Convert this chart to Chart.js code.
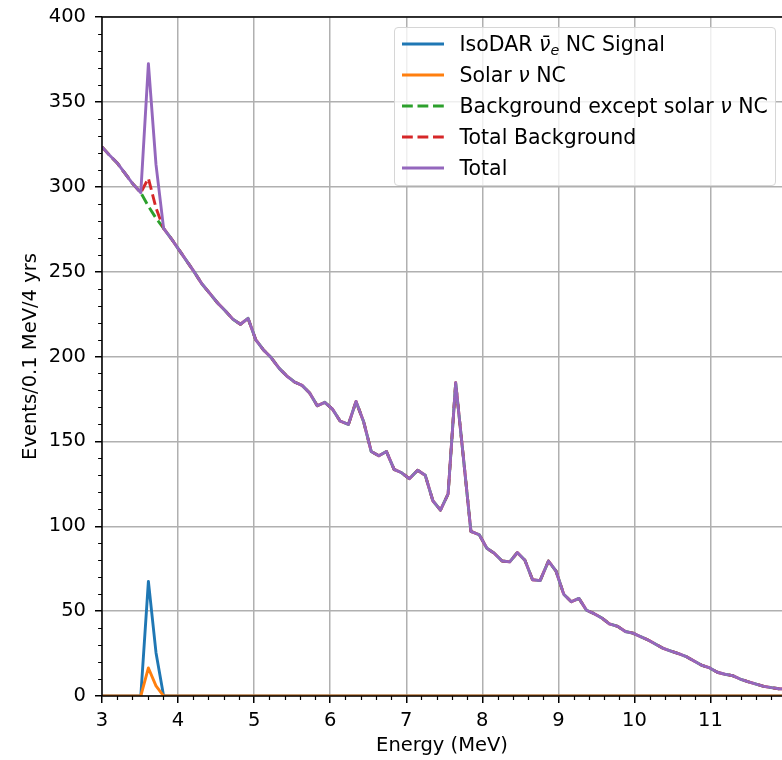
<!DOCTYPE html>
<html lang="en">
<head>
<meta charset="utf-8">
<title>IsoDAR NC spectrum</title>
<script src="https://cdn.jsdelivr.net/npm/chart.js@4.4.1/dist/chart.umd.min.js"></script>
<style>
  body { margin: 0; background: #fff; }
  #wrap { position: relative; width: 782px; height: 760px; }
  #legend {
    position: absolute; left: 394px; top: 27px; width: 382px; height: 159px;
    box-sizing: border-box; border: 1.5px solid #d6d6d6; border-radius: 4px;
    background: rgba(255, 255, 255, 0.8);
    font-family: 'DejaVu Sans', sans-serif; font-size: 20.5px; color: #000;
  }
  .row { display: flex; align-items: center; height: 31.1px; white-space: nowrap; }
  .row svg { margin-left: 6.5px; flex: none; }
  .row .txt { margin-left: 16px; }
  .row sub { font-size: 70%; font-style: italic; vertical-align: -0.3em; line-height: 0; }
</style>
</head>
<body>
<div id="wrap">
  <canvas id="spectrum" width="782" height="760"></canvas>
  <div id="legend"></div>
</div>
<script>
// energy bin positions (MeV)
const energy = [
  3.00, 3.10, 3.20, 3.30, 3.40, 3.51, 3.61, 3.71, 3.81, 3.91,
  4.01, 4.11, 4.21, 4.31, 4.42, 4.52, 4.62, 4.72, 4.82, 4.92,
  5.02, 5.12, 5.22, 5.33, 5.43, 5.53, 5.63, 5.73, 5.83, 5.93,
  6.03, 6.13, 6.24, 6.34, 6.44, 6.54, 6.64, 6.74, 6.84, 6.94,
  7.04, 7.15, 7.25, 7.35, 7.45, 7.55, 7.65, 7.75, 7.85, 7.96,
  8.06, 8.16, 8.26, 8.36, 8.46, 8.56, 8.66, 8.76, 8.87, 8.97,
  9.07, 9.17, 9.27, 9.37, 9.47, 9.57, 9.67, 9.78, 9.88, 9.98,
  10.08, 10.18, 10.28, 10.38, 10.48, 10.58, 10.69, 10.79, 10.89, 10.99,
  11.09, 11.19, 11.29, 11.39, 11.49, 11.60, 11.70, 11.80, 11.90, 12.00
];

const isodarSignal = [
  0, 0, 0, 0, 0, 0, 67.5, 25.5, 0, 0,
  0, 0, 0, 0, 0, 0, 0, 0, 0, 0,
  0, 0, 0, 0, 0, 0, 0, 0, 0, 0,
  0, 0, 0, 0, 0, 0, 0, 0, 0, 0,
  0, 0, 0, 0, 0, 0, 0, 0, 0, 0,
  0, 0, 0, 0, 0, 0, 0, 0, 0, 0,
  0, 0, 0, 0, 0, 0, 0, 0, 0, 0,
  0, 0, 0, 0, 0, 0, 0, 0, 0, 0,
  0, 0, 0, 0, 0, 0, 0, 0, 0, 0
];

const solarNC = [
  0, 0, 0, 0, 0, 0, 16.5, 6, 0, 0,
  0, 0, 0, 0, 0, 0, 0, 0, 0, 0,
  0, 0, 0, 0, 0, 0, 0, 0, 0, 0,
  0, 0, 0, 0, 0, 0, 0, 0, 0, 0,
  0, 0, 0, 0, 0, 0, 0, 0, 0, 0,
  0, 0, 0, 0, 0, 0, 0, 0, 0, 0,
  0, 0, 0, 0, 0, 0, 0, 0, 0, 0,
  0, 0, 0, 0, 0, 0, 0, 0, 0, 0,
  0, 0, 0, 0, 0, 0, 0, 0, 0, 0
];

const bgExceptSolar = [
  323.5, 318.5, 314, 308, 302, 296.5, 288.5, 281.5, 275.5, 269.5,
  263, 256.5, 250, 243, 237, 231.5, 227, 222, 219, 222.5,
  210, 204, 199.5, 193, 188.5, 185, 183, 178.5, 171, 173,
  169, 162, 160, 173.5, 161.5, 144, 141.5, 144, 133.5, 131.5,
  128, 133, 130, 115, 109.5, 119, 184.5, 141, 97, 95,
  87, 84, 79.5, 79, 84.5, 80, 68.5, 68, 79.5, 73.5,
  60, 55.5, 57.5, 50.5, 48.5, 46, 42.5, 41, 38, 37,
  35, 33, 30.5, 28, 26.5, 25, 23, 20.5, 18, 16.5,
  14, 12.8, 12, 10, 8.5, 7, 5.7, 4.9, 4.3, 4
];

const totalBackground = [
  323.5, 318.5, 314, 308, 302, 296.5, 305, 287.5, 275.5, 269.5,
  263, 256.5, 250, 243, 237, 231.5, 227, 222, 219, 222.5,
  210, 204, 199.5, 193, 188.5, 185, 183, 178.5, 171, 173,
  169, 162, 160, 173.5, 161.5, 144, 141.5, 144, 133.5, 131.5,
  128, 133, 130, 115, 109.5, 119, 184.5, 141, 97, 95,
  87, 84, 79.5, 79, 84.5, 80, 68.5, 68, 79.5, 73.5,
  60, 55.5, 57.5, 50.5, 48.5, 46, 42.5, 41, 38, 37,
  35, 33, 30.5, 28, 26.5, 25, 23, 20.5, 18, 16.5,
  14, 12.8, 12, 10, 8.5, 7, 5.7, 4.9, 4.3, 4
];

const total = [
  323.5, 318.5, 314, 308, 302, 296.5, 372.5, 313, 275.5, 269.5,
  263, 256.5, 250, 243, 237, 231.5, 227, 222, 219, 222.5,
  210, 204, 199.5, 193, 188.5, 185, 183, 178.5, 171, 173,
  169, 162, 160, 173.5, 161.5, 144, 141.5, 144, 133.5, 131.5,
  128, 133, 130, 115, 109.5, 119, 184.5, 141, 97, 95,
  87, 84, 79.5, 79, 84.5, 80, 68.5, 68, 79.5, 73.5,
  60, 55.5, 57.5, 50.5, 48.5, 46, 42.5, 41, 38, 37,
  35, 33, 30.5, 28, 26.5, 25, 23, 20.5, 18, 16.5,
  14, 12.8, 12, 10, 8.5, 7, 5.7, 4.9, 4.3, 4
];

const xTicks = [3, 4, 5, 6, 7, 8, 9, 10, 11];
const yTicks = [0, 50, 100, 150, 200, 250, 300, 350, 400];

const seriesNames = [
  'IsoDAR <i>&#957;&#772;</i><sub>e</sub> NC Signal',
  'Solar <i>&#957;</i> NC',
  'Background except solar <i>&#957;</i> NC',
  'Total Background',
  'Total'
];
const seriesColors = ['#1f77b4', '#ff7f0e', '#2ca02c', '#d62728', '#9467bd'];
const seriesDashed = [false, false, true, true, false];

const X_MIN = 3;
const X_MAX = 11.94;
const LINE_W = 2.9;
const DASH = [10.8, 4.7];
const FONT = "'DejaVu Sans', sans-serif";

document.addEventListener('DOMContentLoaded', () => {
    Chart.defaults.font.family = FONT;
    Chart.defaults.color = '#000';

    const seriesValues = [isodarSignal, solarNC, bgExceptSolar, totalBackground, total];

    // matplotlib-like frame: spines drawn over the curves, plus minor ticks
    const axesFrame = {
        id: 'axesFrame',
        afterDatasetsDraw(chart) {
            const { ctx, chartArea: { left, right, top, bottom }, scales: { x, y } } = chart;
            ctx.save();
            ctx.strokeStyle = '#000';
            ctx.lineWidth = 1.2;
            ctx.beginPath();
            for (let i = 0; X_MIN + i * 0.2 <= X_MAX; i++) {
                if (i % 5 === 0) continue;
                const px = Math.round(x.getPixelForValue(X_MIN + i * 0.2)) + 0.5;
                ctx.moveTo(px, bottom);
                ctx.lineTo(px, bottom + 3.9);
            }
            for (let v = 0; v <= 400; v += 10) {
                if (v % 50 === 0) continue;
                const py = Math.round(y.getPixelForValue(v)) + 0.5;
                ctx.moveTo(left, py);
                ctx.lineTo(left - 3.9, py);
            }
            ctx.stroke();

            ctx.lineWidth = 1.5;
            ctx.beginPath();
            ctx.moveTo(left, top);
            ctx.lineTo(left, bottom);
            ctx.moveTo(left - 0.75, bottom);
            ctx.lineTo(right, bottom);
            ctx.moveTo(left - 0.75, top);
            ctx.lineTo(right, top);
            ctx.stroke();
            ctx.restore();
        }
    };

    const datasets = seriesValues.map((vals, i) => ({
        label: seriesNames[i],
        data: energy.map((e, k) => ({ x: e, y: vals[k] })),
        borderColor: seriesColors[i],
        backgroundColor: seriesColors[i],
        borderWidth: LINE_W,
        borderDash: seriesDashed[i] ? DASH : [],
        borderJoinStyle: 'round',
        pointRadius: 0,
        tension: 0,
        fill: false,
        order: seriesValues.length - 1 - i // later series on top
    }));

    const ctx = document.getElementById('spectrum').getContext('2d');
    new Chart(ctx, {
        type: 'line',
        data: { datasets },
        options: {
            responsive: false,
            animation: false,
            layout: { padding: { top: 17, right: 0, bottom: 0, left: 0 } },
            plugins: { legend: { display: false }, tooltip: { enabled: false } },
            scales: {
                x: {
                    type: 'linear',
                    min: X_MIN,
                    max: X_MAX,
                    afterBuildTicks: (s) => { s.ticks = xTicks.map(v => ({ value: v })); },
                    afterFit: (s) => { s.height = 64; s.paddingLeft = 0; s.paddingRight = 0; },
                    border: { display: false },
                    grid: { color: '#b0b0b0', lineWidth: 1.5, tickColor: '#000', tickLength: 7, tickWidth: 1.5 },
                    ticks: { color: '#000', font: { size: 19.5 }, padding: 6, maxRotation: 0, autoSkip: false },
                    title: { display: true, text: 'Energy (MeV)', color: '#000', font: { size: 19.5 }, padding: { top: 0, bottom: 2 } }
                },
                y: {
                    type: 'linear',
                    min: 0,
                    max: 400,
                    afterBuildTicks: (s) => { s.ticks = yTicks.map(v => ({ value: v })); },
                    afterFit: (s) => { s.width = 102; s.paddingTop = 0; s.paddingBottom = 0; },
                    border: { display: false },
                    grid: { color: '#b0b0b0', lineWidth: 1.5, tickColor: '#000', tickLength: 7, tickWidth: 1.5 },
                    ticks: { color: '#000', font: { size: 19.5 }, padding: 9 },
                    title: { display: true, text: 'Events/0.1 MeV/4 yrs', color: '#000', font: { size: 19.5 }, padding: { top: 19, bottom: 0 } }
                }
            }
        },
        plugins: [axesFrame]
    });

    // legend box in the upper right of the plot
    const legendEl = document.getElementById('legend');
    seriesNames.forEach((name, i) => {
        const row = document.createElement('div');
        row.className = 'row';
        const dash = seriesDashed[i] ? ` stroke-dasharray="${DASH.join(' ')}"` : '';
        row.innerHTML =
            `<svg width="42" height="8"><line x1="0" y1="4" x2="42" y2="4" stroke="${seriesColors[i]}" stroke-width="${LINE_W}"${dash}/></svg>` +
            `<span class="txt">${name}</span>`;
        legendEl.appendChild(row);
    });
});
</script>
</body>
</html>
